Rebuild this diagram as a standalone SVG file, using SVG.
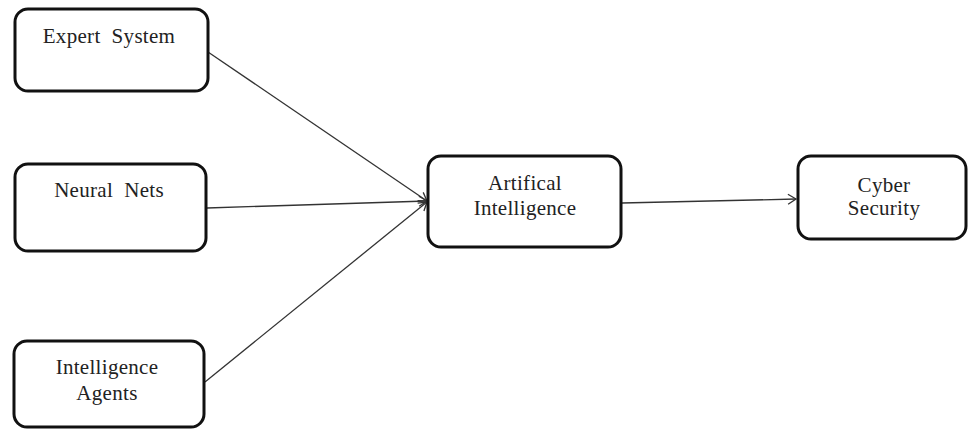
<svg xmlns="http://www.w3.org/2000/svg" width="968" height="430" viewBox="0 0 968 430">
<style>
.box{fill:#fff;stroke:#111;stroke-width:3}
.lbl{font-family:"Liberation Serif","Times New Roman",serif;font-size:21px;letter-spacing:0.3px;fill:#222;text-anchor:middle}
.edge{fill:none;stroke:#333;stroke-width:1.3}
</style>
<defs>
<marker id="arr" markerWidth="12" markerHeight="12" refX="10" refY="6" orient="auto" markerUnits="userSpaceOnUse">
<path d="M2,1 L10,6 L2,11" fill="none" stroke="#333" stroke-width="1.3"/>
</marker>
</defs>
<rect width="968" height="430" fill="#fff"/>
<g id="connectors">
<line class="edge" x1="208" y1="52" x2="427" y2="201" marker-end="url(#arr)"/>
<line class="edge" x1="207" y1="208" x2="427" y2="201" marker-end="url(#arr)"/>
<line class="edge" x1="205" y1="382" x2="427" y2="202" marker-end="url(#arr)"/>
<line class="edge" x1="622" y1="203" x2="796" y2="199" marker-end="url(#arr)"/>
</g>
<g id="expert-system">
<rect class="box" x="15" y="9" width="193" height="82" rx="13"/>
<text class="lbl" x="109" y="43" xml:space="preserve">Expert  System</text>
</g>
<g id="neural-nets">
<rect class="box" x="15" y="164" width="191" height="87" rx="13"/>
<text class="lbl" x="109" y="197" xml:space="preserve">Neural  Nets</text>
</g>
<g id="intelligence-agents">
<rect class="box" x="14" y="341" width="190" height="86" rx="13"/>
<text class="lbl" x="107" y="374">Intelligence</text>
<text class="lbl" x="107" y="400">Agents</text>
</g>
<g id="artificial-intelligence">
<rect class="box" x="428" y="156" width="193" height="91" rx="13"/>
<text class="lbl" x="525" y="190">Artifical</text>
<text class="lbl" x="525" y="215">Intelligence</text>
</g>
<g id="cyber-security">
<rect class="box" x="798" y="156" width="168" height="83" rx="13"/>
<text class="lbl" x="884" y="192">Cyber</text>
<text class="lbl" x="884" y="215">Security</text>
</g>
</svg>
